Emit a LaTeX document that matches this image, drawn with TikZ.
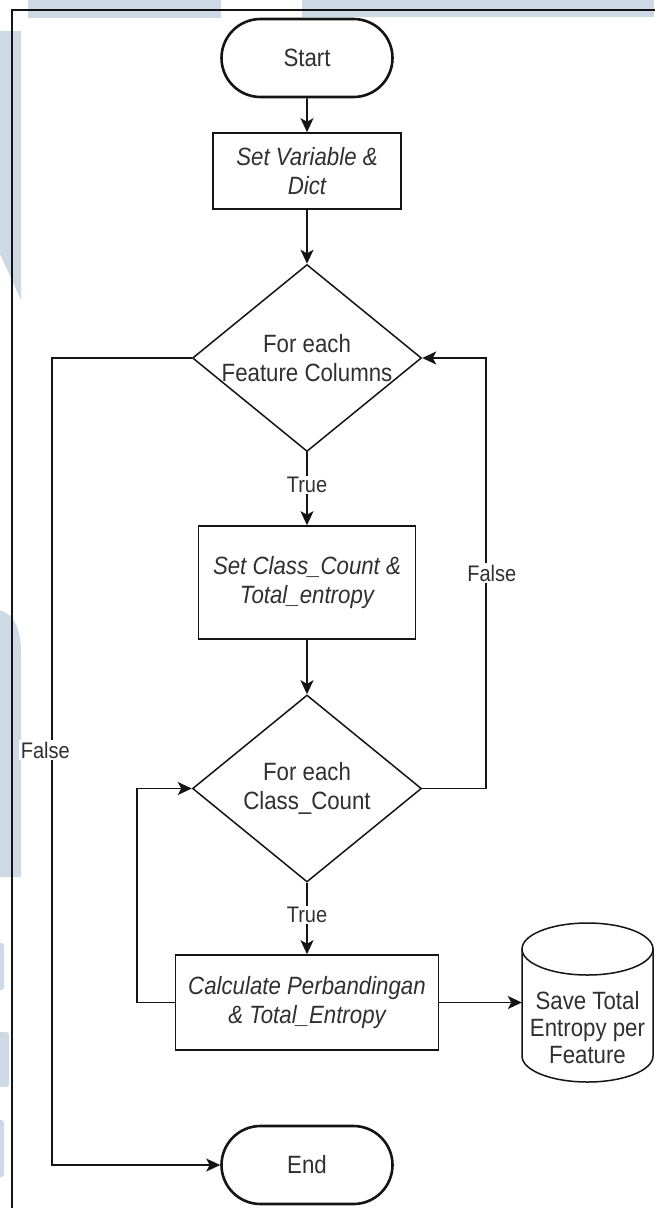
\documentclass[tikz,border=0pt]{standalone}
\usepackage{fontspec}
\newfontfamily\flowfont[FakeStretch=0.89]{Liberation Sans}
\usetikzlibrary{shapes.geometric,shapes.misc,arrows.meta}
\definecolor{wmark}{RGB}{205,217,228}
\definecolor{ink}{HTML}{141414}
\definecolor{txt}{HTML}{303030}

\begin{document}
\begin{tikzpicture}[x=1pt,y=-1pt,
  base/.style={font=\flowfont\fontsize{25}{29}\selectfont, text=txt, align=center},
  term/.style={base, rounded rectangle, draw=ink, line width=2.6pt,
    minimum width=171pt, minimum height=78pt, inner sep=0pt, fill=white},
  proc/.style 2 args={base, font=\flowfont\itshape\fontsize{25}{29}\selectfont,
    draw=ink, line width=1.6pt, minimum width=#1, minimum height=#2,
    inner sep=0pt, fill=white},
  dec/.style={diamond, draw=ink, line width=1.5pt, minimum width=229pt,
    minimum height=187pt, inner sep=0pt, fill=white},
  lbl/.style={base, font=\flowfont\fontsize{22.5}{26}\selectfont, fill=white,
    inner sep=1.5pt},
  conn/.style={draw=ink, line width=1.6pt,
    -{Stealth[length=14pt,width=13pt,inset=3.5pt]}},
]
% page
\fill[white] (0,0) rectangle (654,1208);
\useasboundingbox (0,0) rectangle (654,1208);

% faint background marks
\fill[wmark] (28,0) rectangle (221,18);
\fill[wmark] (302,0) rectangle (654,17);
\fill[wmark] (0,31) -- (21,31) -- (21,300) -- (0,254) -- cycle;
\fill[wmark] (-5,877) -- (-5,610) .. controls (14,610) and (21,630) .. (21,652)
  -- (21,877) -- cycle;
\fill[wmark, rounded corners=3pt] (-5,943) rectangle (4,990);
\fill[wmark, rounded corners=3pt] (-5,1032) rectangle (9,1087);
\fill[wmark, rounded corners=3pt] (-5,1120) rectangle (4,1177);

% frame
\draw[ink, line width=1.2pt] (12,1210) -- (12,10) -- (656,10);

% nodes
\node[term] (start) at (307,58) {Start};
\node[proc={188pt}{76pt}] (setvar) at (307,171) {Set Variable \&\\Dict};
\node[dec] (loopf) at (307,358) {};
\node[base] (loopftxt) at (loopf) {For each\\Feature Columns};
\node[proc={217pt}{113pt}] (setcls) at (307,582.5) {Set Class\_Count \&\\Total\_entropy};
\node[dec] (loopc) at (307,788.5) {};
\node[base] (loopctxt) at (loopc) {For each\\Class\_Count};
\node[proc={263pt}{95pt}] (calc) at (307,1002.5) {Calculate Perbandingan\\\& Total\_Entropy};
\node[minimum width=131pt, minimum height=159pt, inner sep=0pt] (store) at (587.5,1002.5) {};
\node[term] (end) at (307,1165) {End};

% storage cylinder
\fill[white] (522,949) -- (522,1056) arc[start angle=180, end angle=0,
  x radius=65.5, y radius=26] -- (653,949) -- cycle;
\draw[ink, line width=1.5pt] (522,949) -- (522,1056) arc[start angle=180,
  end angle=0, x radius=65.5, y radius=26] -- (653,949);
\draw[ink, line width=1.5pt, fill=white] (587.5,949) ellipse[x radius=65.5, y radius=26];
\node[base, font=\flowfont\fontsize{25}{27}\selectfont] (storetxt) at (587.5,1028)
  {Save Total\\Entropy per\\Feature};

% connectors
\draw[conn] (start) -- (setvar);
\draw[conn] (setvar) -- (loopf);
\draw[conn] (loopf) -- node[lbl, pos=0.45] (t1) {True} (setcls);
\draw[conn] (setcls) -- (loopc);
\draw[conn] (loopc) -- node[lbl, pos=0.45] (t2) {True} (calc);
\draw[conn] (calc.west) -- ++(-37.5,0) |- (loopc.west);
\draw[conn] (calc) -- (store);
\draw[conn] (loopc.east) -- ++(63.5,0) |- (loopf.east)
  node[lbl, pos=0.25, xshift=6pt] (f1) {False};
\draw[conn] (loopf.west) -- ++(-139.5,0) |- (end.west)
  node[lbl, pos=0.243, xshift=-7pt] (f2) {False};
\end{tikzpicture}
\end{document}
